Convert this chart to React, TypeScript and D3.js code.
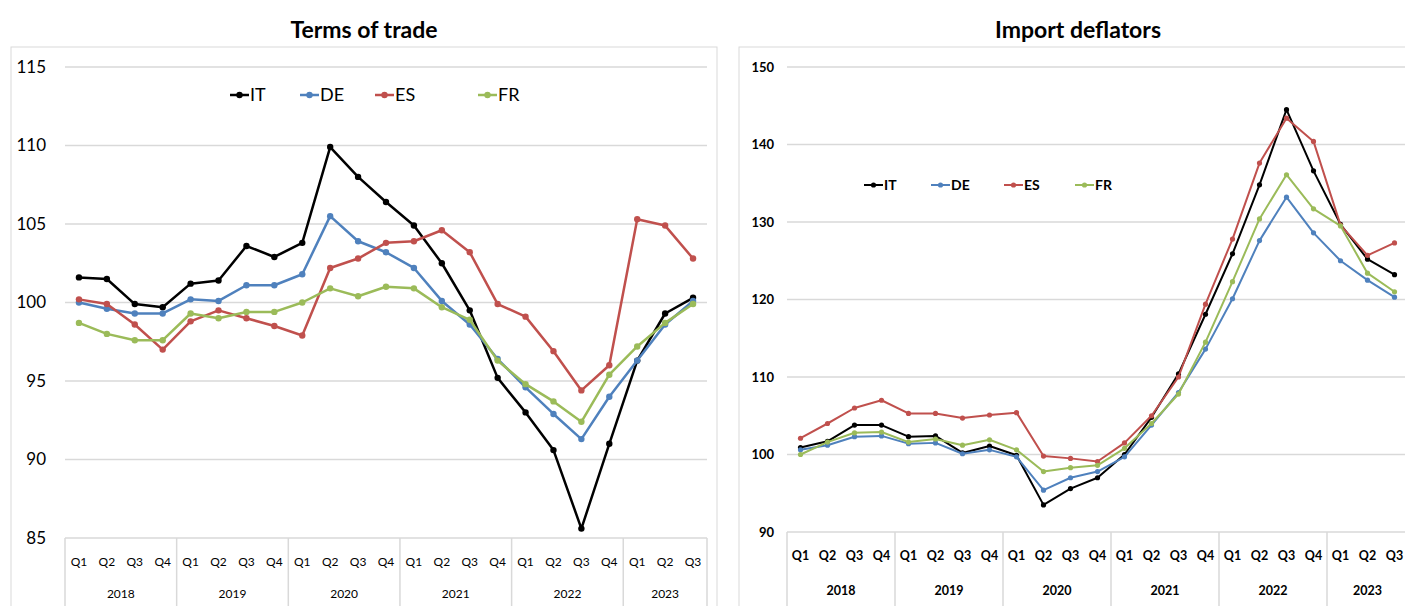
import * as d3 from 'd3';
import { useEffect, useRef } from 'react';

const years = ['2018', '2019', '2020', '2021', '2022', '2023'];
const quarters = ['Q1', 'Q2', 'Q3', 'Q4'];
const seriesNames = ['IT', 'DE', 'ES', 'FR'];
const seriesColors = ['#000000', '#4F81BD', '#C0504D', '#9BBB59'];

// Terms of trade
const totIT = [101.6, 101.5, 99.9, 99.7, 101.2, 101.4, 103.6, 102.9, 103.8, 109.9, 108.0, 106.4, 104.9, 102.5, 99.5, 95.2, 93.0, 90.6, 85.6, 91.0, 96.3, 99.3, 100.3];
const totDE = [100.0, 99.6, 99.3, 99.3, 100.2, 100.1, 101.1, 101.1, 101.8, 105.5, 103.9, 103.2, 102.2, 100.1, 98.6, 96.4, 94.6, 92.9, 91.3, 94.0, 96.3, 98.6, 100.1];
const totES = [100.2, 99.9, 98.6, 97.0, 98.8, 99.5, 99.0, 98.5, 97.9, 102.2, 102.8, 103.8, 103.9, 104.6, 103.2, 99.9, 99.1, 96.9, 94.4, 96.0, 105.3, 104.9, 102.8];
const totFR = [98.7, 98.0, 97.6, 97.6, 99.3, 99.0, 99.4, 99.4, 100.0, 100.9, 100.4, 101.0, 100.9, 99.7, 98.9, 96.3, 94.8, 93.7, 92.4, 95.4, 97.2, 98.7, 99.9];

// Import deflators
const impIT = [100.9, 101.7, 103.8, 103.8, 102.3, 102.4, 100.2, 101.1, 99.9, 93.5, 95.6, 97.0, 100.0, 104.8, 110.4, 118.1, 125.9, 134.8, 144.5, 136.6, 129.7, 125.2, 123.2];
const impDE = [100.6, 101.2, 102.3, 102.4, 101.4, 101.5, 100.1, 100.6, 99.7, 95.4, 97.0, 97.8, 99.7, 103.8, 108.0, 113.6, 120.1, 127.6, 133.2, 128.6, 125.0, 122.5, 120.3];
const impES = [102.1, 104.0, 106.0, 107.0, 105.3, 105.3, 104.7, 105.1, 105.4, 99.8, 99.5, 99.1, 101.5, 105.0, 110.0, 119.4, 127.8, 137.6, 143.4, 140.4, 129.6, 125.7, 127.3];
const impFR = [100.0, 101.6, 102.8, 102.9, 101.6, 102.0, 101.2, 101.9, 100.6, 97.8, 98.3, 98.6, 100.8, 104.0, 107.8, 114.5, 122.3, 130.4, 136.1, 131.7, 129.5, 123.4, 121.0];

const totTicks = [85, 90, 95, 100, 105, 110, 115];
const impTicks = [90, 100, 110, 120, 130, 140, 150];

// 2018Q1 .. 2023Q3
const periods = years.flatMap(y => quarters.map(q => `${y} ${q}`)).slice(0, 23);

const W = 1405, H = 606;
const FONT = 'Lato, "Open Sans", sans-serif';

interface ChartCfg {
    title: string
    titleX: number
    box: [number, number]
    x0: number
    x1: number
    yTop: number
    yBot: number
    ticks: number[]
    tickX: number
    tickFont: number
    bold: boolean
    qFont: number
    qY: number
    yearY: number
    lineW: number
    r: number
    legendY: number
    legendX: number[]
    legendFont: number
    series: number[][]
}

function drawChart(svg: d3.Selection<SVGSVGElement, unknown, null, undefined>, c: ChartCfg) {
    const g = svg.append('g');
    const weight = c.bold ? 'bold' : 'normal';

    g.append('rect')
        .attr('x', c.box[0]).attr('y', 47)
        .attr('width', c.box[1] - c.box[0]).attr('height', H)
        .attr('fill', '#fff').attr('stroke', '#d9d9d9').attr('stroke-width', 1);

    g.append('text')
        .attr('x', c.titleX).attr('y', 38)
        .attr('text-anchor', 'middle')
        .attr('font-family', FONT).attr('font-weight', 'bold').attr('font-size', 23)
        .text(c.title);

    const x = d3.scaleBand<string>().domain(periods).range([c.x0, c.x1]).padding(0);
    const xc = (p: string) => (x(p) as number) + x.bandwidth() / 2;
    const y = d3.scaleLinear().domain([c.ticks[0], c.ticks[c.ticks.length - 1]]).range([c.yBot, c.yTop]);

    // gridlines + tick labels
    c.ticks.forEach(t => {
        g.append('line')
            .attr('x1', c.x0).attr('x2', c.x1)
            .attr('y1', y(t)).attr('y2', y(t))
            .attr('stroke', '#d9d9d9').attr('stroke-width', 1.5);
        g.append('text')
            .attr('x', c.tickX).attr('y', y(t))
            .attr('dy', '0.35em')
            .attr('text-anchor', 'end')
            .attr('font-family', FONT).attr('font-weight', weight).attr('font-size', c.tickFont)
            .attr('fill', '#000')
            .text(t);
    });

    // category table under the axis: one cell per year
    const bw = x.bandwidth();
    const sep = (px: number) => g.append('line')
        .attr('x1', px).attr('x2', px)
        .attr('y1', c.yBot).attr('y2', H)
        .attr('stroke', '#d9d9d9').attr('stroke-width', 1.5);
    years.forEach(yr => {
        const inYear = periods.filter(p => p.startsWith(yr));
        const left = x(inYear[0]) as number;
        sep(left);
        g.append('text')
            .attr('x', left + (inYear.length * bw) / 2).attr('y', c.yearY)
            .attr('text-anchor', 'middle')
            .attr('font-family', FONT).attr('font-weight', weight).attr('font-size', c.qFont)
            .text(yr);
    });
    sep(c.x1);
    g.selectAll('text.q')
        .data(periods)
        .join('text')
        .attr('class', 'q')
        .attr('x', d => xc(d)).attr('y', c.qY)
        .attr('text-anchor', 'middle')
        .attr('font-family', FONT).attr('font-weight', weight).attr('font-size', c.qFont)
        .text(d => d.split(' ')[1]);

    const line = d3.line<number>()
        .x((_, i) => xc(periods[i]))
        .y(d => y(d));

    c.series.forEach((s, k) => {
        g.append('path')
            .datum(s)
            .attr('fill', 'none')
            .attr('stroke', seriesColors[k])
            .attr('stroke-width', c.lineW)
            .attr('stroke-linejoin', 'round')
            .attr('d', line);
        g.selectAll(`circle.s${k}`)
            .data(s)
            .join('circle')
            .attr('class', `s${k}`)
            .attr('cx', (_, i) => xc(periods[i]))
            .attr('cy', d => y(d))
            .attr('r', c.r)
            .attr('fill', seriesColors[k]);
    });

    // legend
    seriesNames.forEach((name, k) => {
        const lx = c.legendX[k];
        g.append('line')
            .attr('x1', lx).attr('x2', lx + 19)
            .attr('y1', c.legendY).attr('y2', c.legendY)
            .attr('stroke', seriesColors[k]).attr('stroke-width', c.lineW);
        g.append('circle')
            .attr('cx', lx + 9.5).attr('cy', c.legendY).attr('r', c.r)
            .attr('fill', seriesColors[k]);
        g.append('text')
            .attr('x', lx + 20).attr('y', c.legendY)
            .attr('dy', '0.36em')
            .attr('font-family', FONT).attr('font-weight', weight).attr('font-size', c.legendFont)
            .text(name);
    });
}

function App() {
    const ref = useRef<SVGSVGElement>(null);

    useEffect(() => {
        const svg = d3.select(ref.current as SVGSVGElement);
        svg.selectAll('*').remove();

        drawChart(svg, {
            title: 'Terms of trade', titleX: 364, box: [11, 717],
            x0: 65, x1: 707, yTop: 67, yBot: 538,
            ticks: totTicks, tickX: 46, tickFont: 17, bold: false,
            qFont: 12, qY: 566, yearY: 598,
            lineW: 2.5, r: 3.2,
            legendY: 95, legendX: [230, 300, 375, 478], legendFont: 18,
            series: [totIT, totDE, totES, totFR]
        });

        drawChart(svg, {
            title: 'Import deflators', titleX: 1078, box: [739, 1420],
            x0: 787, x1: 787 + 23 * 27, yTop: 67, yBot: 532,
            ticks: impTicks, tickX: 774, tickFont: 13, bold: true,
            qFont: 12.5, qY: 560, yearY: 595,
            lineW: 2, r: 2.6,
            legendY: 185, legendX: [864, 931, 1004, 1075], legendFont: 14,
            series: [impIT, impDE, impES, impFR]
        });
    }, []);

    return (
        <svg ref={ref} width={W} height={H}
            style={{ position: 'absolute', left: 0, top: 0, background: '#fff' }} />
    );
}

export default App;
